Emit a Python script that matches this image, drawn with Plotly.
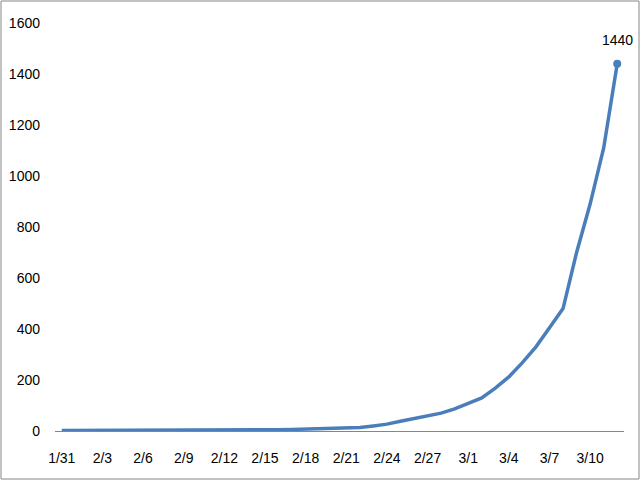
import plotly.graph_objects as go

dates = ["1/31", "2/1", "2/2", "2/3", "2/4", "2/5", "2/6", "2/7", "2/8", "2/9",
         "2/10", "2/11", "2/12", "2/13", "2/14", "2/15", "2/16", "2/17", "2/18", "2/19",
         "2/20", "2/21", "2/22", "2/23", "2/24", "2/25", "2/26", "2/27", "2/28", "2/29",
         "3/1", "3/2", "3/3", "3/4", "3/5", "3/6", "3/7", "3/8", "3/9", "3/10",
         "3/11", "3/12"]
values = [2, 2, 2, 2, 2, 2, 3, 3, 3, 3,
          3, 3, 3, 3, 3, 3, 5, 6, 7, 8,
          9, 11, 14, 20, 27, 38, 48, 58, 70, 87,
          108, 130, 168, 212, 268, 330, 405, 480, 700, 890,
          1110, 1440]
tick_labels = dates[::3]
y_ticks = [0, 200, 400, 600, 800, 1000, 1200, 1400, 1600]

FONT = "Liberation Sans Narrow, Arial Narrow, Liberation Sans, sans-serif"
BLUE = "#4A7EBB"

fig = go.Figure()
fig.add_trace(go.Scatter(x=dates, y=values, mode="lines", cliponaxis=False,
                         line=dict(color=BLUE, width=3.5), hoverinfo="skip"))
fig.add_trace(go.Scatter(x=[dates[-1]], y=[values[-1]], mode="markers",
                         cliponaxis=False, hoverinfo="skip",
                         marker=dict(color=BLUE, size=8)))
fig.add_annotation(x=dates[-1], y=values[-1], xref="x", yref="y",
                   text=str(values[-1]), showarrow=False, yshift=24,
                   font=dict(family=FONT, size=14, color="#000000"))

W, H = 640, 480
l, r, t, b = 55, 16, 23, 49
pw, ph = W - l - r, H - t - b

fig.update_layout(
    width=W, height=H, showlegend=False,
    margin=dict(l=l, r=r, t=t, b=b, autoexpand=False),
    paper_bgcolor="white", plot_bgcolor="white",
    font=dict(family=FONT, size=14, color="#000000"),
    xaxis=dict(type="category", range=[-0.5, len(dates) - 0.5], automargin=False,
               tickmode="array", tickvals=tick_labels, ticktext=tick_labels,
               showgrid=False, zeroline=False, showline=True,
               linecolor="#868686", linewidth=1, ticks="",
               ticklabelstandoff=14, tickangle=0),
    yaxis=dict(range=[0, 1600], tickmode="array", tickvals=y_ticks, automargin=False,
               showgrid=False, zeroline=False, showline=False, ticks="",
               ticklabelstandoff=14),
    shapes=[dict(type="rect", xref="paper", yref="paper",
                 x0=(1 - l) / pw, x1=(W - 1 - l) / pw,
                 y0=-(H - 1 - (H - b)) / ph, y1=(H - b - 1) / ph,
                 line=dict(color="#868686", width=1))],
)

fig.write_html("out.html", config={"displayModeBar": False},
               post_script="document.body.style.margin='0';document.body.style.overflow='hidden';")
